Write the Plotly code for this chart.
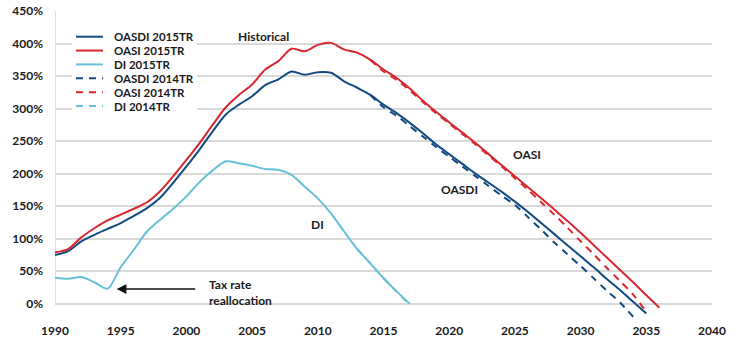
import plotly.graph_objects as go

# ---------------- data ----------------
years_2015 = list(range(1990, 2037))

oasdi_2015 = [75, 81, 96, 106, 115, 124, 135, 147, 163, 186, 211, 237, 265, 291, 306,
              319, 336, 345, 357, 352, 356, 355, 342, 332, 321, 306, 293, 278, 262, 245,
              230, 215, 200, 186, 172, 157, 141, 124, 107, 90, 73, 56, 38, 21, 3, -15]
oasi_2015 = [79, 84, 102, 116, 128, 137, 146, 156, 173, 196, 221, 247, 275, 302, 321,
             337, 360, 373, 392, 388, 398, 401, 391, 386, 375, 360, 347, 331, 312, 295,
             279, 263, 247, 230, 213, 196, 179, 162, 145, 127, 109, 90, 71, 52, 33, 13, -6]
di_years_2015 = list(range(1990, 2018))
di_2015 = [40, 38.5, 41, 33, 23, 56, 83, 111, 129, 146, 165, 187, 205, 219, 216,
           212, 207, 206, 198, 180, 162, 139, 111, 84, 62, 39.5, 19, 0]

years_2014 = list(range(2014, 2035))
oasdi_2014 = [321, 302, 289, 273, 257, 241, 226, 211, 196, 181, 166, 152, 133, 114,
              94, 76, 58, 39, 20, 2, -20]
years_2014_oasi = list(range(2014, 2035)) + [2034.9]
oasi_2014 = [375, 357, 344, 328, 310, 293, 277, 261, 245, 228, 211, 193, 175, 156,
             137, 117, 96, 76, 55, 35, 14, -10]
di_years_2014 = [2013, 2014, 2015, 2016, 2016.9]
di_2014 = [84, 62, 39, 18.5, 0]

x_ticks = [1990, 1995, 2000, 2005, 2010, 2015, 2020, 2025, 2030, 2035, 2040]
y_ticks = [0, 50, 100, 150, 200, 250, 300, 350, 400, 450]
y_labels = [f"{v}%" for v in y_ticks]

C_OASDI = "#124a80"
C_OASI = "#d8282f"
C_DI = "#66c1d8"
TXT = "#1a1a1a"
FONT = "Lato"
DASH = "7px,6px"

series = [
    ("OASDI 2015TR", years_2015[:len(oasdi_2015)], oasdi_2015, C_OASDI, "solid"),
    ("OASI 2015TR", years_2015, oasi_2015, C_OASI, "solid"),
    ("DI 2015TR", di_years_2015, di_2015, C_DI, "solid"),
    ("OASDI 2014TR", years_2014, oasdi_2014, C_OASDI, DASH),
    ("OASI 2014TR", years_2014_oasi, oasi_2014, C_OASI, DASH),
    ("DI 2014TR", di_years_2014, di_2014, C_DI, DASH),
]

fig = go.Figure()
for name, xs, ys, col, dash in series:
    fig.add_trace(go.Scatter(
        x=xs, y=ys, name=name, mode="lines",
        line=dict(color=col, width=2, dash=dash, shape="spline", smoothing=0.8),
        showlegend=False, hoverinfo="skip"))

# manual legend (compact rows like the original)
leg_rows = [(320 - (36.7 + i * 13.86)) / 309 for i in range(6)]
shapes = [
    dict(type="rect", xref="paper", yref="paper", x0=0.026, x1=0.216, y0=0.668, y1=0.945,
         fillcolor="white", line=dict(width=0), layer="above"),
    dict(type="line", xref="x", yref="y", x0=1990, x1=1990, y0=0, y1=450,
         line=dict(color="#d4d4d4", width=1.5), layer="below"),
]
annotations = []
for (name, xs, ys, col, dash), ry in zip(series, leg_rows):
    shapes.append(dict(type="line", xref="paper", yref="paper", x0=0.032, x1=0.073,
                       y0=ry, y1=ry, line=dict(color=col, width=2, dash=dash), layer="above"))
    annotations.append(dict(text=name, xref="paper", yref="paper", x=0.0883, y=ry,
                            xanchor="left", yanchor="middle", showarrow=False,
                            height=11, borderpad=0,
                            font=dict(family=FONT, size=11.5, color=TXT, weight="bold")))

lab_font = dict(family=FONT, size=12, color=TXT, weight="bold")
annotations += [
    dict(text="Historical", x=2005.87, y=410.8, showarrow=False, font=lab_font),
    dict(text="OASI", x=2025.92, y=229, showarrow=False, font=lab_font),
    dict(text="OASDI", x=2020.75, y=176, showarrow=False, font=lab_font),
    dict(text="DI", x=2009.94, y=121.5, showarrow=False, font=lab_font),
    dict(text="Tax rate<br>reallocation", x=2001.55, y=17, xanchor="left", align="left",
         showarrow=False, font=lab_font),
    dict(text="", x=1994.69, y=22.6, ax=2000.78, ay=22.6, axref="x", ayref="y",
         showarrow=True, arrowhead=2, arrowsize=1.3, arrowwidth=1.5, arrowcolor="#111111"),
]

fig.update_layout(
    width=740, height=341,
    margin=dict(l=55, r=28, t=11, b=21),
    paper_bgcolor="white", plot_bgcolor="white",
    shapes=shapes, annotations=annotations,
    showlegend=False,
    xaxis=dict(range=[1990, 2040], tickvals=x_ticks, showgrid=False, zeroline=False,
               showline=False, ticks="", tickfont=lab_font, ticklabelstandoff=2,
               automargin=False),
    yaxis=dict(range=[-25, 450], tickvals=y_ticks, ticktext=y_labels, showgrid=True,
               gridcolor="#d9d9d9", gridwidth=1.5, zeroline=False, showline=False,
               ticks="", tickfont=lab_font, ticklabelstandoff=11, automargin=False),
)

fig.write_html("out.html")
